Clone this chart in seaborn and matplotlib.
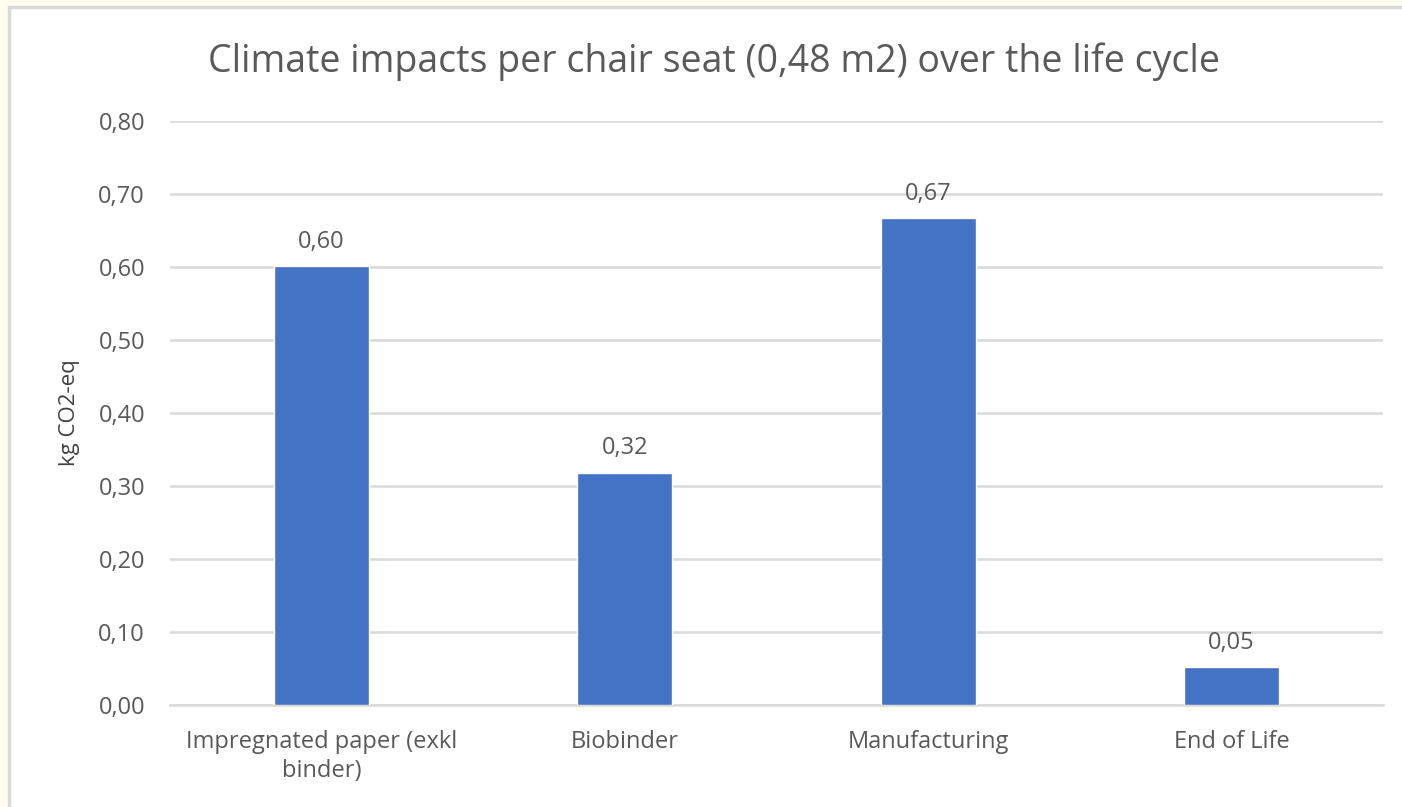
import matplotlib
matplotlib.use("Agg")
import matplotlib.pyplot as plt
import seaborn as sns
import pandas as pd
from matplotlib.patches import Rectangle

# Life-cycle stages and their climate impact (kg CO2-eq per chair seat)
stages = ["Impregnated paper (exkl\nbinder)", "Biobinder", "Manufacturing", "End of Life"]
impacts = [0.601, 0.318, 0.667, 0.052]
value_labels = ["0,60", "0,32", "0,67", "0,05"]
y_ticks = [0.0, 0.1, 0.2, 0.3, 0.4, 0.5, 0.6, 0.7, 0.8]
y_tick_labels = ["0,00", "0,10", "0,20", "0,30", "0,40", "0,50", "0,60", "0,70", "0,80"]

sns.set_theme(style="white")
plt.rcParams["font.family"] = ["Open Sans", "DejaVu Sans"]

TEXT = "#595959"
GRID = "#d9d9d9"
BAR = "#4472C4"
FS = 17

fig = plt.figure(figsize=(14.02, 8.07), dpi=100)
fig.patch.set_facecolor("#fefdf0")

# white chart panel with a thin grey frame
panel = Rectangle((8.5 / 1402, -0.01), 1.1, 1 - 6.5 / 807 + 0.01,
                  transform=fig.transFigure, facecolor="white",
                  edgecolor=GRID, linewidth=2.5, zorder=-5)
fig.patches.append(panel)

ax = fig.add_axes([170 / 1402, 1 - 705 / 807, 1213 / 1402, 584 / 807])
ax.set_facecolor("none")

df = pd.DataFrame({"stage": stages, "impact": impacts})
sns.barplot(data=df, x="stage", y="impact", color=BAR, saturation=1,
            width=0.313, ax=ax, zorder=3)

ax.set_ylim(0, 0.8)
ax.set_xlim(-0.5, len(stages) - 0.5)
ax.set_yticks(y_ticks)
ax.set_yticklabels(y_tick_labels)
ax.yaxis.grid(True, color=GRID, linewidth=1.8, zorder=0)
ax.set_axisbelow(True)
for s in ax.spines.values():
    s.set_visible(False)
ax.spines["bottom"].set_visible(True)
ax.spines["bottom"].set_color(GRID)
ax.spines["bottom"].set_linewidth(1.8)

ax.tick_params(axis="y", length=0, pad=18, labelsize=FS, labelcolor=TEXT)
ax.tick_params(axis="x", length=0, pad=18, labelsize=FS, labelcolor=TEXT)
for lbl in ax.get_xticklabels():
    lbl.set_linespacing(1.3)
ax.set_xlabel("")
ax.set_ylabel("kg CO2-eq", fontsize=16, color="#404040", labelpad=13)

for patch, txt in zip(ax.patches, value_labels):
    ax.annotate(txt, (patch.get_x() + patch.get_width() / 2, patch.get_height()),
                xytext=(0, 9), textcoords="offset points",
                ha="center", va="bottom", fontsize=FS, color=TEXT)

fig.text(714 / 1402, 1 - 62 / 807, "Climate impacts per chair seat (0,48 m2) over the life cycle",
         ha="center", va="center", fontsize=27, color=TEXT)

fig.savefig("out.png", dpi=100, facecolor=fig.get_facecolor())
